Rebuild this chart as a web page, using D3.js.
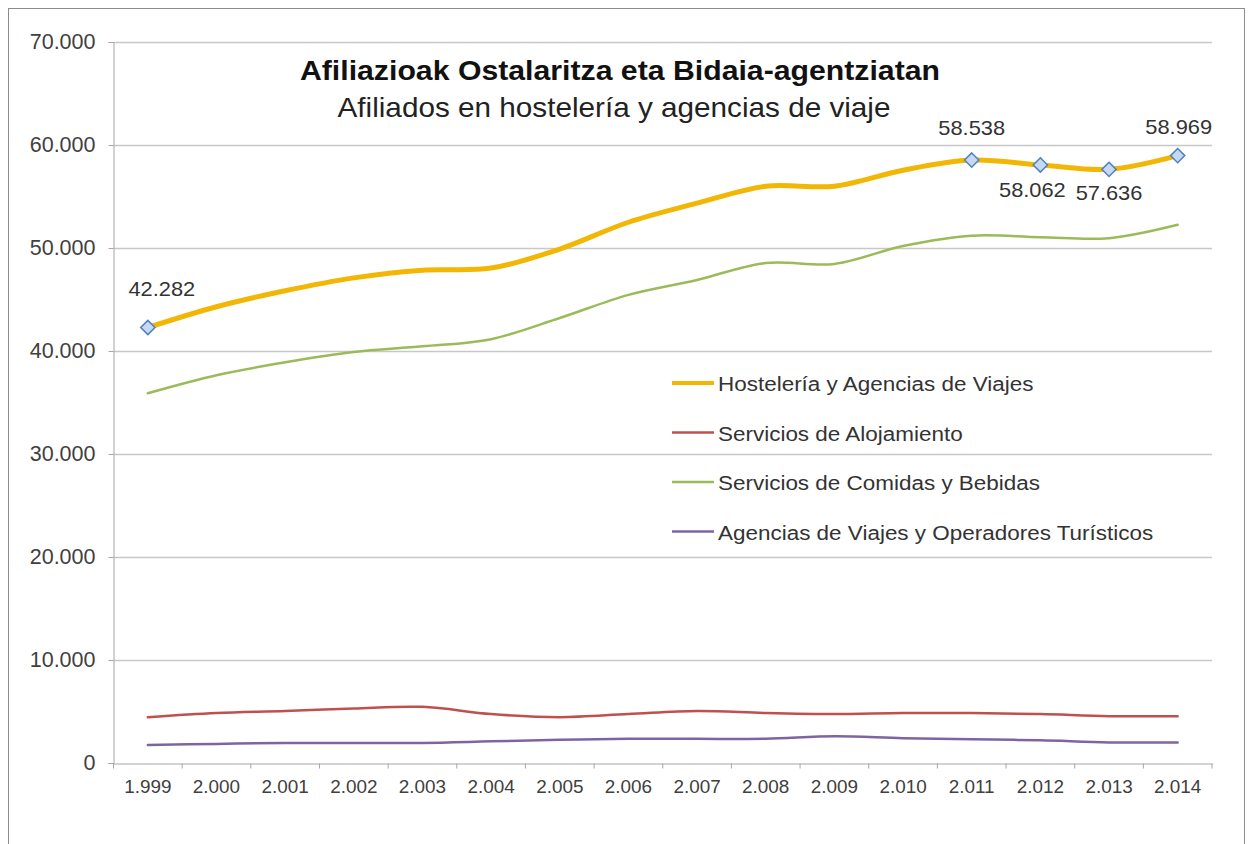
<!DOCTYPE html>
<html>
<head>
<meta charset="utf-8">
<script src="https://cdn.jsdelivr.net/npm/d3@7"></script>
<style>
  body { margin: 0; background: #fff; }
  svg { font-family: "Liberation Sans", Arial, sans-serif; }
</style>
</head>
<body>
<svg id="chart" width="1251" height="844"></svg>
<script>
var years = ['1.999','2.000','2.001','2.002','2.003','2.004','2.005','2.006','2.007','2.008','2.009','2.010','2.011','2.012','2.013','2.014'];

var hosteleria = [42282, 44300, 45850, 47100, 47850, 48050, 49900, 52500, 54350, 56000, 56000, 57550, 58538, 58062, 57636, 58969];
var comidas    = [35900, 37650, 38900, 39900, 40450, 41150, 43200, 45450, 46900, 48550, 48450, 50200, 51200, 51050, 50950, 52250];
var alojamiento = [4450, 4850, 5050, 5300, 5450, 4750, 4450, 4750, 5050, 4850, 4750, 4850, 4850, 4750, 4550, 4550];
var agencias   = [1750, 1850, 1950, 1950, 1950, 2100, 2250, 2350, 2350, 2350, 2600, 2400, 2300, 2200, 2000, 2000];

var seriesNames = ['Hostelería y Agencias de Viajes', 'Servicios de Alojamiento', 'Servicios de Comidas y Bebidas', 'Agencias de Viajes y Operadores Turísticos'];
var seriesValues = [hosteleria, alojamiento, comidas, agencias];

var yTicks = [0, 10000, 20000, 30000, 40000, 50000, 60000, 70000];
// points of the main series that carry a marker and a value label
var labelled = [0, 12, 13, 14, 15];

// styling
var seriesColors = ['#f2b705', '#c0504d', '#9bbb59', '#8064a2'];
var seriesWidths = [5, 2.5, 2.5, 2.5];
var labelShift = {0: [14, -31], 12: [0, -25], 13: [-8, 32], 14: [0, 31], 15: [1, -22]};

var svg = d3.select('#chart');
var margin = {left: 113.5, right: 1212, top: 42, bottom: 763};

var fmt = function (v) {
  return v === 0 ? '0' : d3.format(',')(v).replace(/,/g, '.');
};

// text drawn a touch wider, as in the original picture
function wideText(sel, x, y, sx) {
  return sel.append('text')
    .attr('transform', 'translate(' + x + ',' + y + ') scale(' + sx + ',1)');
}

svg.append('rect')
  .attr('x', 8.5).attr('y', 8.5)
  .attr('width', 1236).attr('height', 860)
  .style('fill', '#fff')
  .style('stroke', '#8c8c8c')
  .style('stroke-width', 1);

var x = d3.scaleBand()
  .domain(years)
  .range([margin.left, margin.right]);

var y = d3.scaleLinear()
  .domain([0, 70000])
  .range([margin.bottom, margin.top]);

// gridlines
svg.append('g')
  .selectAll('line')
  .data(yTicks.filter(function (d) { return d > 0; }))
  .enter()
  .append('line')
  .attr('x1', margin.left)
  .attr('x2', margin.right)
  .attr('y1', function (d) { return Math.round(y(d)) + 0.5; })
  .attr('y2', function (d) { return Math.round(y(d)) + 0.5; })
  .style('stroke', '#c8c8c8')
  .style('stroke-width', 1.3);

// y axis
var yAxis = svg.append('g')
  .attr('transform', 'translate(' + margin.left + ',0)')
  .call(d3.axisLeft(y).tickValues(yTicks).tickFormat(fmt).tickSize(5).tickPadding(13));
yAxis.select('.domain').style('stroke', '#a6a6a6');
yAxis.selectAll('.tick line').style('stroke', '#a6a6a6');
yAxis.selectAll('text').style('font-size', '21.5px').style('fill', '#404040');

// x axis
var xAxis = svg.append('g')
  .attr('transform', 'translate(0,' + (Math.round(margin.bottom) + 0.5) + ')')
  .call(d3.axisBottom(x).tickSize(0));
xAxis.select('.domain').style('stroke', '#a6a6a6');
xAxis.selectAll('.tick text').remove();
xAxis.selectAll('.tick').each(function (d) {
  wideText(d3.select(this), 0, 29.5, 1.05)
    .attr('text-anchor', 'middle')
    .style('font-size', '18px')
    .style('fill', '#404040')
    .text(d);
});
xAxis.selectAll('.bound')
  .data(d3.range(years.length + 1))
  .enter()
  .append('line')
  .attr('x1', function (d) { return margin.left + d * x.step(); })
  .attr('x2', function (d) { return margin.left + d * x.step(); })
  .attr('y1', 0)
  .attr('y2', 5)
  .style('stroke', '#a6a6a6');

var cx = function (i) { return x(years[i]) + x.bandwidth() / 2; };

var line = d3.line()
  .x(function (d, i) { return cx(i); })
  .y(function (d) { return y(d); })
  .curve(d3.curveCatmullRom.alpha(0.5));

// draw lines, main series last so it sits on top
[3, 1, 2, 0].forEach(function (k) {
  svg.append('path')
    .datum(seriesValues[k])
    .attr('d', line)
    .style('fill', 'none')
    .style('stroke', seriesColors[k])
    .style('stroke-width', seriesWidths[k])
    .style('stroke-linejoin', 'round')
    .style('stroke-linecap', 'round');
});

// markers
var diamond = d3.symbol().type(d3.symbolDiamond2).size(130);
svg.append('g')
  .selectAll('path')
  .data(labelled)
  .enter()
  .append('path')
  .attr('d', diamond)
  .attr('transform', function (i) { return 'translate(' + cx(i) + ',' + y(hosteleria[i]) + ')'; })
  .style('fill', '#c6d9f1')
  .style('stroke', '#4f81bd')
  .style('stroke-width', 1.5);

var labels = svg.append('g');
labelled.forEach(function (i) {
  wideText(labels, cx(i) + labelShift[i][0], y(hosteleria[i]) + labelShift[i][1], 1.04)
    .attr('text-anchor', 'middle')
    .style('font-size', '21px')
    .style('fill', '#333')
    .text(fmt(hosteleria[i]));
});

// titles
wideText(svg, 620, 80, 1.12)
  .attr('text-anchor', 'middle')
  .style('font-size', '27px')
  .style('font-weight', 'bold')
  .style('fill', '#111')
  .text('Afiliazioak Ostalaritza eta Bidaia-agentziatan');

wideText(svg, 614, 117, 1.1)
  .attr('text-anchor', 'middle')
  .style('font-size', '27px')
  .style('fill', '#222')
  .text('Afiliados en hostelería y agencias de viaje');

// legend
var legend = svg.append('g')
  .selectAll('g')
  .data(seriesNames)
  .enter()
  .append('g')
  .attr('transform', function (d, i) { return 'translate(672,' + (383 + i * 49.5) + ')'; });

legend.append('line')
  .attr('x1', 0).attr('x2', 42)
  .style('stroke', function (d, i) { return seriesColors[i]; })
  .style('stroke-width', function (d, i) { return i === 0 ? 4 : 2.5; });

legend.each(function (d) {
  wideText(d3.select(this), 46, 8, 1.07)
    .style('font-size', '21px')
    .style('fill', '#333')
    .text(d);
});
</script>
</body>
</html>
